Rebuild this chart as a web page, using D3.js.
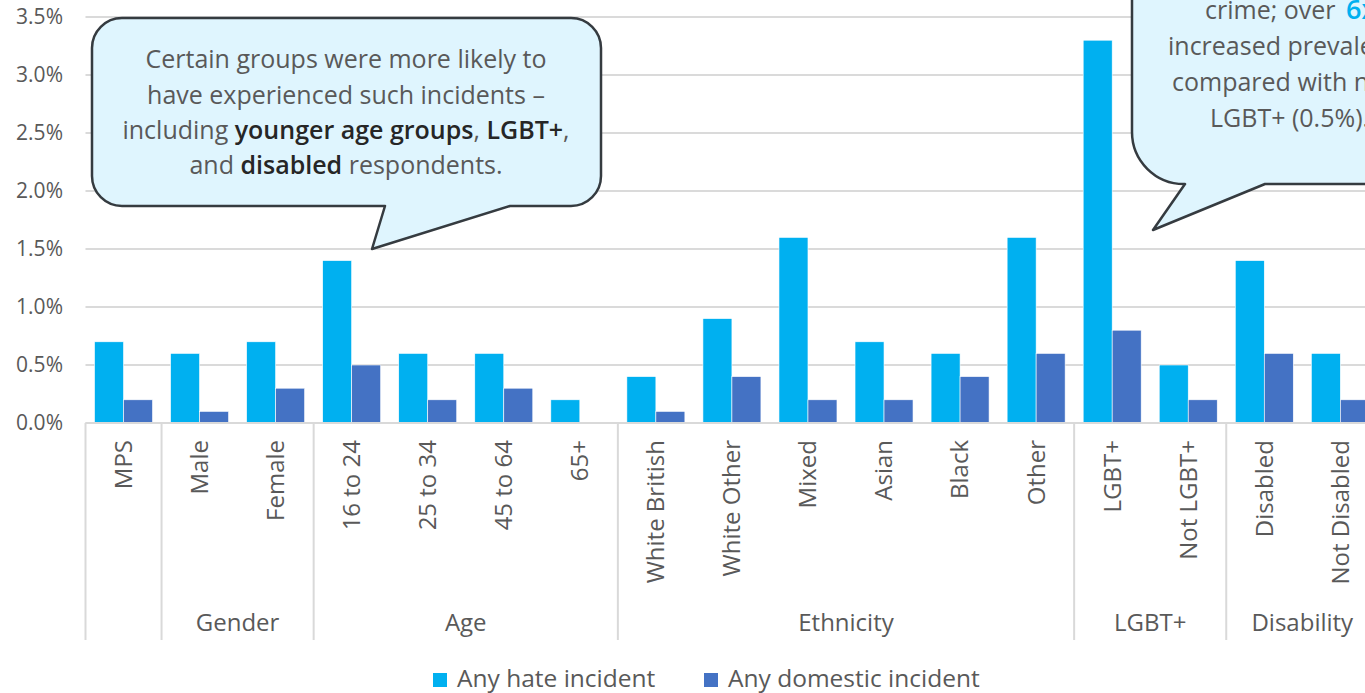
<!DOCTYPE html>
<html>
<head>
<meta charset="utf-8">
<script src="https://cdn.jsdelivr.net/npm/d3@7/dist/d3.min.js"></script>
<style>
  html, body { margin: 0; padding: 0; background: #fff; overflow: hidden; }
  svg { display: block; font-family: "Open Sans", "Noto Sans", sans-serif; }
</style>
</head>
<body>
<svg id="chart" width="1365" height="693"></svg>
<script>
// Categories along the x axis
const categories = ["MPS", "Male", "Female", "16 to 24", "25 to 34", "45 to 64", "65+",
  "White British", "White Other", "Mixed", "Asian", "Black", "Other",
  "LGBT+", "Not LGBT+", "Disabled", "Not Disabled"];

// Prevalence (%) per category
const hateIncident     = [0.7, 0.6, 0.7, 1.4, 0.6, 0.6, 0.2, 0.4, 0.9, 1.6, 0.7, 0.6, 1.6, 3.3, 0.5, 1.4, 0.6];
const domesticIncident = [0.2, 0.1, 0.3, 0.5, 0.2, 0.3, 0.0, 0.1, 0.4, 0.2, 0.2, 0.4, 0.6, 0.8, 0.2, 0.6, 0.2];

const seriesNames = ["Any hate incident", "Any domestic incident"];
const seriesColors = ["#00B0F0", "#4472C4"];

// Category groupings shown beneath the tick labels
const groupNames  = ["", "Gender", "Age", "Ethnicity", "LGBT+", "Disability"];
const groupStarts = [0, 1, 3, 7, 13, 15];
const groupSizes  = [1, 2, 4, 6, 2, 2];

const yTicks = [0, 0.5, 1.0, 1.5, 2.0, 2.5, 3.0, 3.5];

const svg = d3.select("#chart");
const textGray = "#595959";

const left = 85.5, step = 76.05;
const plotRight = left + step * categories.length;
const y0 = 423, yTop = 17;

const x = d3.scaleBand().domain(categories).range([left, plotRight]).padding(0);
const groupW = 58;
const xs = d3.scaleBand().domain(seriesNames)
  .range([(x.bandwidth() - groupW) / 2, (x.bandwidth() + groupW) / 2]).padding(0);
const y = d3.scaleLinear().domain([0, 3.5]).range([y0, yTop]);

// Gridlines
svg.append("g").selectAll("line").data(yTicks).join("line")
  .attr("x1", left).attr("x2", 1365)
  .attr("y1", d => y(d)).attr("y2", d => y(d))
  .attr("stroke", "#dadada").attr("stroke-width", 2);

// Y axis labels
const yAxis = d3.axisLeft(y).tickValues(yTicks).tickFormat(d => d3.format(".1f")(d) + "%").tickSize(0).tickPadding(0);
const yg = svg.append("g").attr("transform", "translate(63,0)").call(yAxis);
yg.select(".domain").remove();
yg.selectAll("text").attr("font-size", 21).attr("fill", textGray)
  .attr("font-family", "'Open Sans', sans-serif");

// Bars
const rows = categories.map((c, i) => ({ cat: c, vals: [hateIncident[i], domesticIncident[i]] }));
const gBars = svg.append("g");
rows.forEach(r => {
  r.vals.forEach((v, j) => {
    if (v <= 0) return;
    gBars.append("rect")
      .attr("x", x(r.cat) + xs(seriesNames[j]))
      .attr("y", y(v))
      .attr("width", xs.bandwidth())
      .attr("height", y(0) - y(v))
      .attr("fill", seriesColors[j])
      .attr("stroke", "#ffffff").attr("stroke-width", 0.6);
  });
});

// Category axis line
svg.append("line").attr("x1", left).attr("x2", 1365).attr("y1", y0).attr("y2", y0)
  .attr("stroke", "#d9d9d9").attr("stroke-width", 2);

// Rotated category labels
svg.append("g").selectAll("text").data(categories).join("text")
  .attr("transform", d => `translate(${x(d) + x.bandwidth() / 2},440) rotate(-90)`)
  .attr("text-anchor", "end").attr("dy", "0.35em")
  .attr("font-size", 24).attr("fill", textGray)
  .text(d => d);

// Group separators and group labels
groupStarts.forEach((s, i) => {
  const gx = left + s * step;
  svg.append("line").attr("x1", gx).attr("x2", gx).attr("y1", y0).attr("y2", 640)
    .attr("stroke", "#d9d9d9").attr("stroke-width", 2);
  if (groupNames[i]) {
    svg.append("text")
      .attr("x", gx + groupSizes[i] * step / 2).attr("y", 631)
      .attr("text-anchor", "middle").attr("font-size", 24).attr("fill", textGray)
      .text(groupNames[i]);
  }
});
svg.append("line").attr("x1", plotRight).attr("x2", plotRight).attr("y1", y0).attr("y2", 640)
  .attr("stroke", "#d9d9d9").attr("stroke-width", 2);

// Legend
const legendX = [433, 704];
seriesNames.forEach((n, i) => {
  svg.append("rect").attr("x", legendX[i]).attr("y", 673).attr("width", 14).attr("height", 14)
    .attr("fill", seriesColors[i]);
  svg.append("text").attr("x", legendX[i] + 24).attr("y", 687)
    .attr("font-size", 24.5).attr("fill", textGray).text(n);
});

// Callout bubbles
const calloutFill = "#DFF5FE", calloutStroke = "#353b40";

function bubblePath(x0, y0b, x1, y1b, r, baseA, tip, baseB) {
  // rounded rectangle with a pointer leaving the bottom edge
  return `M${x0 + r},${y0b} H${x1 - r} A${r},${r} 0 0 1 ${x1},${y0b + r} V${y1b - r}
    A${r},${r} 0 0 1 ${x1 - r},${y1b} H${baseA} L${tip[0]},${tip[1]} L${baseB},${y1b}
    H${x0 + r} A${r},${r} 0 0 1 ${x0},${y1b - r} V${y0b + r} A${r},${r} 0 0 1 ${x0 + r},${y0b} Z`;
}

svg.append("path")
  .attr("d", bubblePath(92, 18, 601, 206, 30, 510, [372, 249], 385))
  .attr("fill", calloutFill).attr("stroke", calloutStroke).attr("stroke-width", 2.5)
  .attr("stroke-linejoin", "round");

const leftLines = [
  [["Certain groups were more likely to", false]],
  [["have experienced such incidents \u2013", false]],
  [["including ", false], ["younger age groups", true], [", ", false], ["LGBT+", true], [",", false]],
  [["and ", false], ["disabled", true], [" respondents.", false]]
];
const leftBase = [68, 104, 139, 174];
leftLines.forEach((parts, i) => {
  const t = svg.append("text").attr("x", 346).attr("y", leftBase[i])
    .attr("text-anchor", "middle").attr("font-size", 25).attr("fill", textGray);
  parts.forEach(([s, b]) => {
    const sp = t.append("tspan").text(s);
    if (b) sp.attr("fill", "#262626").attr("font-weight", 600);
  });
});

svg.append("path")
  .attr("d", bubblePath(1132, -80, 1700, 184, 52, 1265, [1153, 230], 1185))
  .attr("fill", calloutFill).attr("stroke", calloutStroke).attr("stroke-width", 2.5)
  .attr("stroke-linejoin", "round");

const rightLines = [
  [["crime; over ", false], ["6x", true], [" the", false]],
  [["increased prevalence (3.3%)", false]],
  [["compared with non-", false]],
  [["LGBT+ (0.5%).", false]]
];
const rightX = [1205, 1168, 1172, 1210];
const rightBase = [19, 55, 91, 127];
rightLines.forEach((parts, i) => {
  const t = svg.append("text").attr("x", rightX[i]).attr("y", rightBase[i])
    .attr("font-size", 25).attr("fill", textGray);
  parts.forEach(([s, b]) => {
    const sp = t.append("tspan").text(s);
    if (b) sp.attr("fill", "#00B0F0").attr("font-weight", 600).attr("font-size", 27).attr("dx", 4);
  });
});
</script>
</body>
</html>
